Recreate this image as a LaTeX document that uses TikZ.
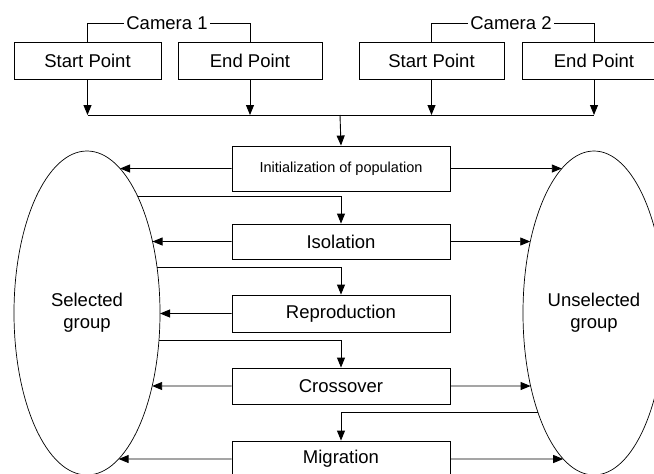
\documentclass[tikz,border=0pt]{standalone}
\usepackage{fontspec}
\setmainfont{Liberation Sans}
\usetikzlibrary{shapes.geometric,arrows.meta,calc,intersections}

\tikzset{
  box/.style={draw, line width=0.9pt, minimum width=218pt, minimum height=36pt,
    inner sep=0pt, font=\fontsize{18.5}{22}\selectfont},
  arr/.style={-{Triangle[length=10pt,width=8pt]}, line width=0.9pt},
  grp/.style={align=center, font=\fontsize{18.5}{22}\selectfont},
  cam/.style={inner sep=2pt, font=\fontsize{18.5}{22}\selectfont}
}

\begin{document}
\begin{tikzpicture}[x=1pt,y=-1pt]
      \useasboundingbox (0,0) rectangle (654,474);
      \clip (0,0) rectangle (654,474);

      % cameras
      \node[box, minimum width=147pt, minimum height=37pt] (s1) at (87.5,60.5) {Start Point};
      \node[box, minimum width=144pt, minimum height=37pt] (e1) at (250,60.5) {End Point};
      \node[box, minimum width=145pt, minimum height=37pt] (s2) at (431.5,60.5) {Start Point};
      \node[box, minimum width=144pt, minimum height=37pt] (e2) at (594,60.5) {End Point};
      \node[cam] (cam1) at (167,23) {Camera 1};
      \node[cam] (cam2) at (511,23) {Camera 2};
      \draw[line width=0.9pt] (s1.north) |- (cam1);
      \draw[line width=0.9pt] (e1.north) |- (cam1);
      \draw[line width=0.9pt] (s2.north) |- (cam2);
      \draw[line width=0.9pt] (e2.north) |- (cam2);

      \coordinate (bus) at (340,115);
      \foreach \c in {s1,e1,s2,e2}
        \draw[arr] (\c.south) -- (\c.south |- bus);
      \draw[line width=0.9pt] (s1.south |- bus) -- (e2.south |- bus);

      % steps
      \node[box, minimum height=45pt, font=\fontsize{14.5}{17}\selectfont] (init) at (341,168.5)
        {Initialization of population};
      \node[box, minimum height=35pt] (iso) at (341,241.5) {Isolation};
      \node[box, minimum height=37pt] (rep) at (341,313.5) {Reproduction};
      \node[box] (cro) at (341,386) {Crossover};
      \node[box] (mig) at (341,459) {Migration};
      \draw[arr] (bus) -- (init.north);

      % groups
      \node[grp] (sel) at (87,313) {Selected\\group};
      \node[grp] (uns) at (594,313) {Unselected\\group};
      \draw[line width=0.7pt, name path=selE] (sel.center) ellipse [x radius=73pt, y radius=162pt];
      \draw[line width=0.7pt, name path=unsE] (uns.center) ellipse [x radius=71pt, y radius=162pt];

      \foreach \b in {init,iso,rep,cro,mig} {
        \path[name path=hl] (\b.west) -- ++(-300,0);
        \draw[arr, name intersections={of=hl and selE, sort by=hl}] (\b.west) -- (intersection-1);
      }
      \foreach \b in {init,iso,cro,mig} {
        \path[name path=hr] (\b.east) -- ++(300,0);
        \draw[arr, name intersections={of=hr and unsE, sort by=hr}] (\b.east) -- (intersection-1);
      }

      % feeding lines
      \foreach \b in {iso,rep,cro} {
        \path[name path=hf] ($(\b.north)+(0,-27)$) -- ++(-300,0);
        \draw[arr, name intersections={of=hf and selE, sort by=hf}] (intersection-1) -| (\b.north);
      }
      \path[name path=hm] ($(mig.north)+(0,-28)$) -- ++(300,0);
      \draw[arr, name intersections={of=hm and unsE, sort by=hm}] (intersection-1) -| (mig.north);
\end{tikzpicture}
\end{document}
